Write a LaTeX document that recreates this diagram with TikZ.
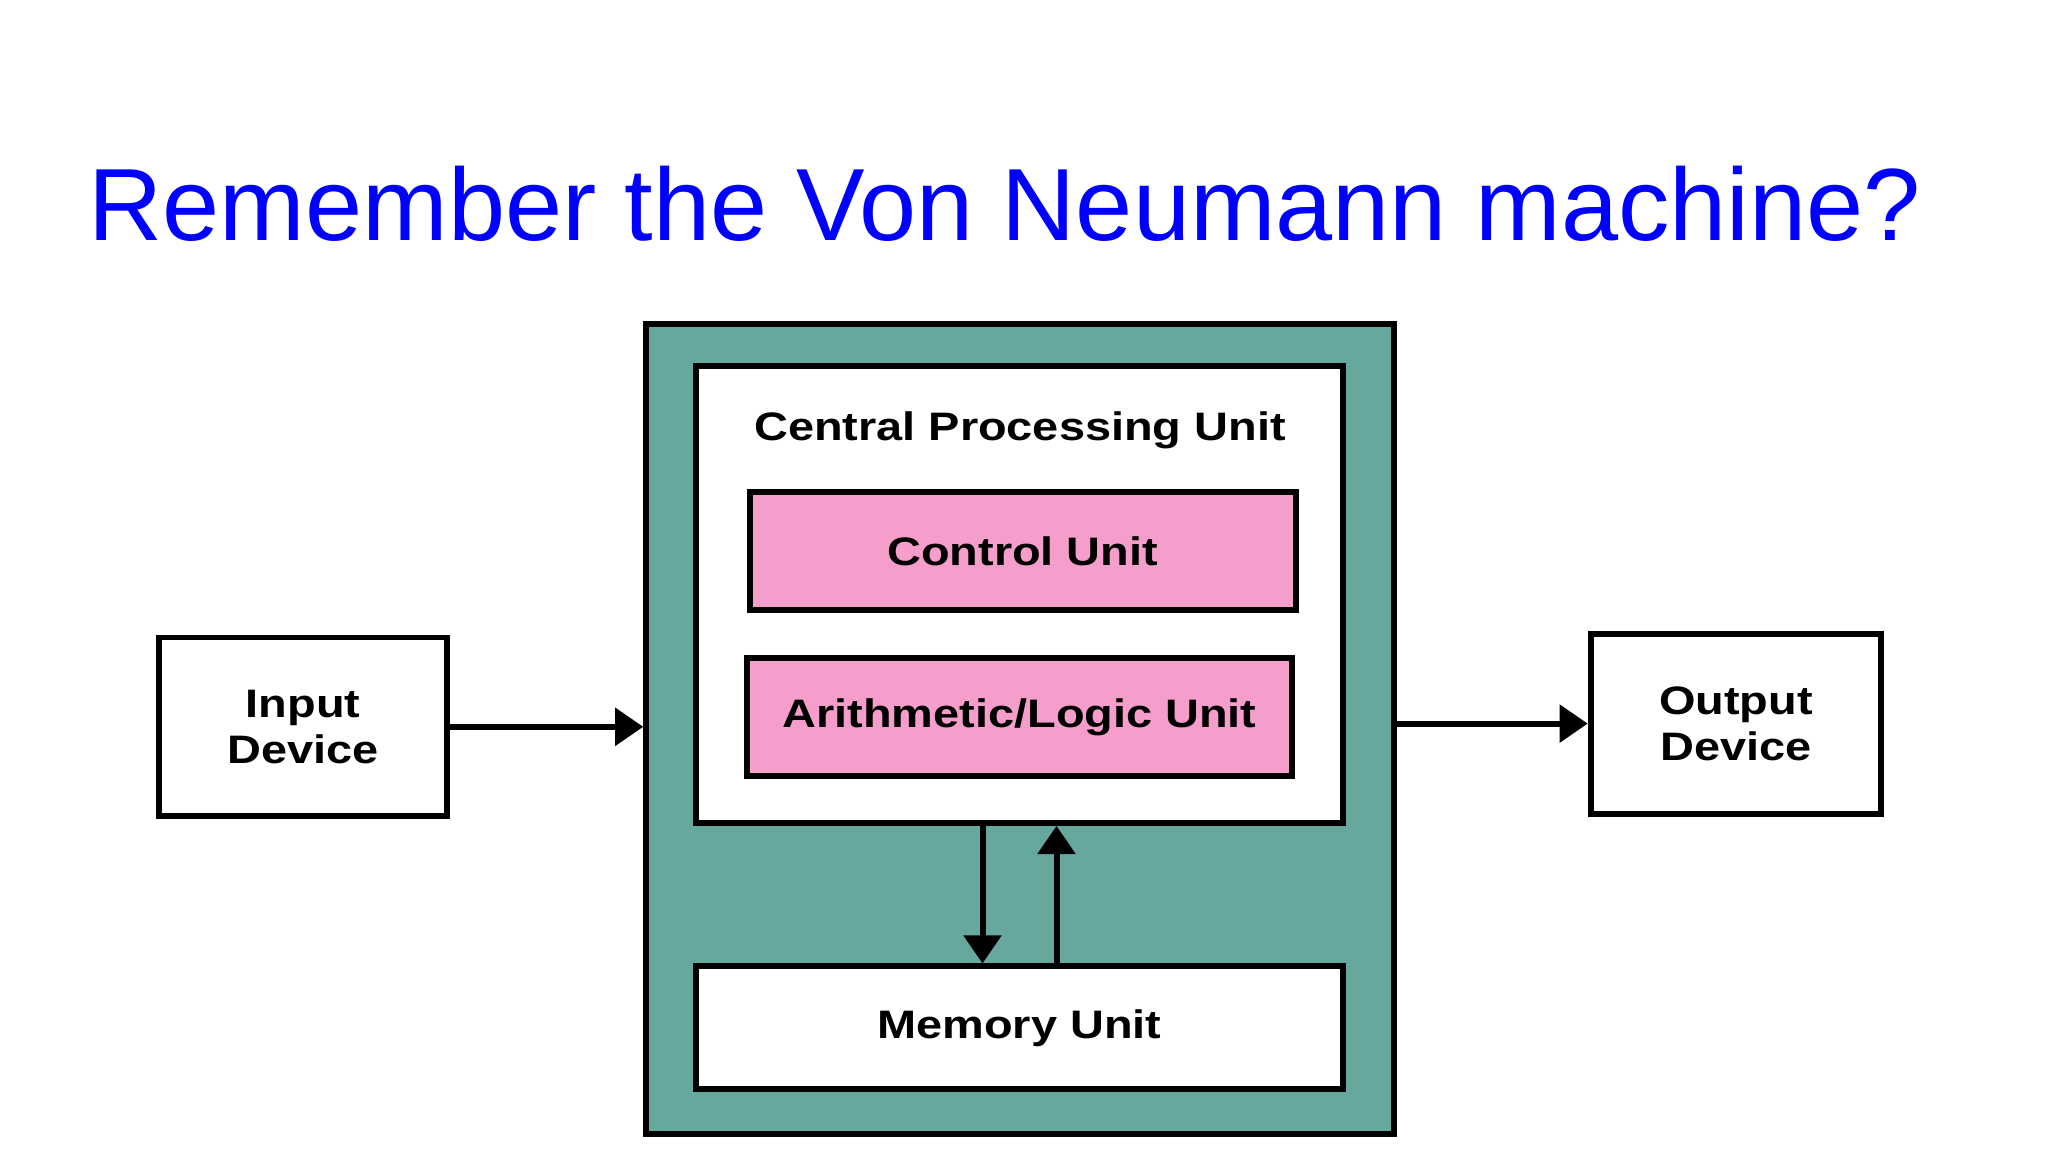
\documentclass[tikz,border=0pt]{standalone}
\usepackage{fontspec}
\setmainfont{Liberation Sans}
\newfontfamily\boxfont{Liberation Sans}[FakeStretch=1.18]
\usepackage{tikz}
\usetikzlibrary{arrows.meta, calc}

\definecolor{teal}{RGB}{102,168,158}
\definecolor{pinkbox}{RGB}{246,158,203}

\begin{document}
\begin{tikzpicture}[x=0.01cm, y=-0.01cm,
    unit/.style={draw, line width=1.7pt, fill=white, inner sep=0pt,
        font=\boxfont\bfseries\fontsize{11.3}{13}\selectfont, align=center},
    arrow/.style={line width=1.7pt, -{Triangle[length=8pt, width=10.5pt]}}]
    \useasboundingbox[fill=white] (0,0) rectangle (2048,1152);

    % title
    \node[anchor=base west, inner sep=0pt, text=blue, font=\fontsize{29.2}{35}\selectfont] (title) at (88,241) {Remember the Von Neumann machine?};

    % machine
    \node[unit, fill=teal, minimum width=7.47cm, minimum height=8.10cm] (outer) at (1020,729) {};
    \node[unit, minimum width=6.465cm, minimum height=4.57cm] (cpu) at (1019.5,594.3) {};
    \node[font=\boxfont\bfseries\fontsize{11.3}{13}\selectfont, anchor=base] (cpulabel) at (1020,441) {Central Processing Unit};
    \node[unit, fill=pinkbox, minimum width=5.46cm, minimum height=1.176cm] (cu) at (1022.7,551.2) {Control Unit};
    \node[unit, fill=pinkbox, minimum width=5.447cm, minimum height=1.175cm] (alu) at (1019.5,717) {Arithmetic/Logic Unit};
    \node[unit, minimum width=6.465cm, minimum height=1.228cm] (mem) at (1019.5,1027.9) {Memory Unit};

    % devices
    \node[unit, minimum width=2.88cm, minimum height=1.785cm] (input) at (303,726.8) {Input\\Device};
    \node[unit, minimum width=2.90cm, minimum height=1.80cm] (output) at (1735.8,723.6) {Output\\Device};

    \draw[arrow] (input.east) -- (input.east -| outer.west);
    \draw[arrow] (output.west -| outer.east) -- (output.west);
    \draw[arrow] ($(cpu.south)+(-37,0)$) -- ($(mem.north)+(-37,0)$); % cpu to memory
    \draw[arrow] ($(mem.north)+(37,0)$) -- ($(cpu.south)+(37,0)$); % memory to cpu
\end{tikzpicture}
\end{document}
